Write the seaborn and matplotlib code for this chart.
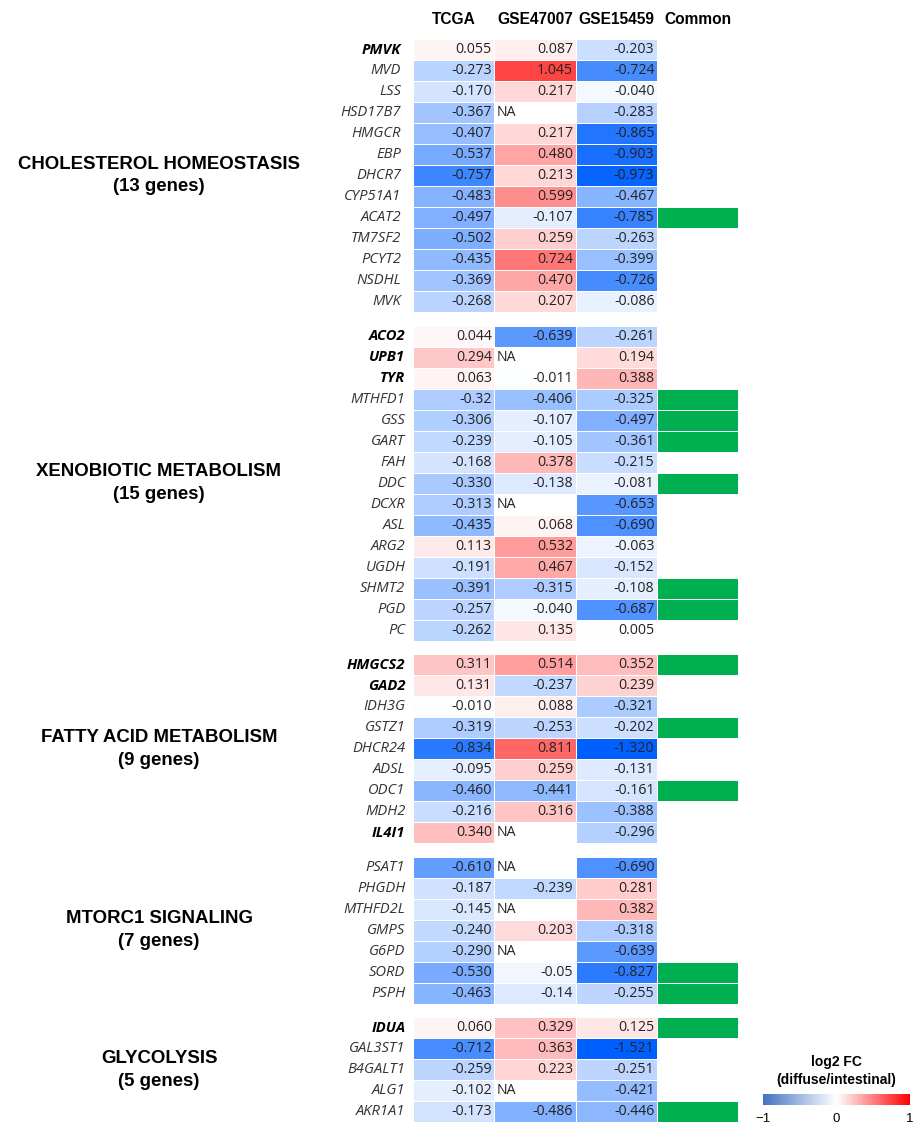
import matplotlib
matplotlib.use("Agg")
import matplotlib.pyplot as plt
import numpy as np
import pandas as pd
import seaborn as sns
from matplotlib.colors import LinearSegmentedColormap, ListedColormap, Normalize
from matplotlib.cm import ScalarMappable

sns.set_style("white")
plt.rcParams['font.family'] = ['Open Sans', 'DejaVu Sans']
plt.rcParams['text.color'] = 'black'

# data (strings keep the printed precision)
group_names = ["CHOLESTEROL HOMEOSTASIS", "XENOBIOTIC METABOLISM",
               "FATTY ACID METABOLISM", "MTORC1 SIGNALING", "GLYCOLYSIS"]
group_sizes = [13, 15, 9, 7, 5]
columns = ["TCGA", "GSE47007", "GSE15459"]

genes = ["PMVK", "MVD", "LSS", "HSD17B7", "HMGCR", "EBP", "DHCR7", "CYP51A1", "ACAT2",
         "TM7SF2", "PCYT2", "NSDHL", "MVK",
         "ACO2", "UPB1", "TYR", "MTHFD1", "GSS", "GART", "FAH", "DDC", "DCXR", "ASL",
         "ARG2", "UGDH", "SHMT2", "PGD", "PC",
         "HMGCS2", "GAD2", "IDH3G", "GSTZ1", "DHCR24", "ADSL", "ODC1", "MDH2", "IL4I1",
         "PSAT1", "PHGDH", "MTHFD2L", "GMPS", "G6PD", "SORD", "PSPH",
         "IDUA", "GAL3ST1", "B4GALT1", "ALG1", "AKR1A1"]

tcga = ["0.055", "-0.273", "-0.170", "-0.367", "-0.407", "-0.537", "-0.757", "-0.483", "-0.497",
        "-0.502", "-0.435", "-0.369", "-0.268",
        "0.044", "0.294", "0.063", "-0.32", "-0.306", "-0.239", "-0.168", "-0.330", "-0.313", "-0.435",
        "0.113", "-0.191", "-0.391", "-0.257", "-0.262",
        "0.311", "0.131", "-0.010", "-0.319", "-0.834", "-0.095", "-0.460", "-0.216", "0.340",
        "-0.610", "-0.187", "-0.145", "-0.240", "-0.290", "-0.530", "-0.463",
        "0.060", "-0.712", "-0.259", "-0.102", "-0.173"]

gse47007 = ["0.087", "1.045", "0.217", "NA", "0.217", "0.480", "0.213", "0.599", "-0.107",
            "0.259", "0.724", "0.470", "0.207",
            "-0.639", "NA", "-0.011", "-0.406", "-0.107", "-0.105", "0.378", "-0.138", "NA", "0.068",
            "0.532", "0.467", "-0.315", "-0.040", "0.135",
            "0.514", "-0.237", "0.088", "-0.253", "0.811", "0.259", "-0.441", "0.316", "NA",
            "NA", "-0.239", "NA", "0.203", "NA", "-0.05", "-0.14",
            "0.329", "0.363", "0.223", "NA", "-0.486"]

gse15459 = ["-0.203", "-0.724", "-0.040", "-0.283", "-0.865", "-0.903", "-0.973", "-0.467", "-0.785",
            "-0.263", "-0.399", "-0.726", "-0.086",
            "-0.261", "0.194", "0.388", "-0.325", "-0.497", "-0.361", "-0.215", "-0.081", "-0.653", "-0.690",
            "-0.063", "-0.152", "-0.108", "-0.687", "0.005",
            "0.352", "0.239", "-0.321", "-0.202", "-1.320", "-0.131", "-0.161", "-0.388", "-0.296",
            "-0.690", "0.281", "0.382", "-0.318", "-0.639", "-0.827", "-0.255",
            "0.125", "-1.521", "-0.251", "-0.421", "-0.446"]

common_genes = ["ACAT2", "MTHFD1", "GSS", "GART", "DDC", "SHMT2", "PGD",
                "HMGCS2", "GSTZ1", "ODC1", "SORD", "PSPH", "IDUA", "AKR1A1"]
bold_genes = ["PMVK", "ACO2", "UPB1", "TYR", "HMGCS2", "GAD2", "IL4I1", "IDUA"]

# build table
txt = pd.DataFrame({"TCGA": tcga, "GSE47007": gse47007, "GSE15459": gse15459}, index=genes)
vals = txt.replace("NA", np.nan).astype(float)
vals["Common"] = np.nan
common = pd.DataFrame(0.0, index=genes, columns=vals.columns)
common.loc[common_genes, "Common"] = 1.0

cell_cmap = LinearSegmentedColormap.from_list("bwr_x", ["#0060FF", "#FFFFFF", "#FF4444"])
bar_cmap = LinearSegmentedColormap.from_list("bar_x", ["#4472C4", "#FFFFFF", "#FF0000"])
green = ListedColormap(["#00B050"])

W, H = 913, 1124
fig = plt.figure(figsize=(W / 100, H / 100), dpi=100)


def rect(x0, y0, w, h):
    return [x0 / W, 1 - (y0 + h) / H, w / W, h / H]


row_h = 21.0
gap = 13.6
x_left, col_w = 413, 81.3
top = 39
start = 0
for gi, (gname, n) in enumerate(zip(group_names, group_sizes)):
    sub = vals.iloc[start:start + n]
    sub_txt = txt.iloc[start:start + n]
    sub_com = common.iloc[start:start + n]
    ax = fig.add_axes(rect(x_left, top, col_w * 4, row_h * n))
    sns.heatmap(sub, ax=ax, cmap=cell_cmap, vmin=-1, vmax=1, cbar=False,
                mask=sub.isna(), linewidths=0.4, linecolor="white",
                xticklabels=True, yticklabels=True)
    sns.heatmap(sub_com, ax=ax, cmap=green, cbar=False, mask=sub_com != 1,
                linewidths=0.4, linecolor="white", xticklabels=True, yticklabels=True)

    # cell texts
    for r in range(n):
        for c, col in enumerate(columns):
            s = sub_txt.iloc[r][col]
            if s == "NA":
                ax.text(c + 0.03, r + 0.5, s, ha="left", va="center", fontsize=10.2, color="#222222")
            else:
                ax.text(c + 0.97, r + 0.5, s, ha="right", va="center", fontsize=10.2, color="#222222")

    ax.set_yticklabels(sub.index, rotation=0)
    for lab in ax.get_yticklabels():
        lab.set_fontstyle("italic")
        lab.set_fontsize(10.6)
        lab.set_color("#333333")
        if lab.get_text() in bold_genes:
            lab.set_fontweight("bold")
            lab.set_color("black")
    ax.tick_params(left=False, bottom=False, top=False, pad=2)
    ax.set_ylabel("")
    ax.set_xlabel("")
    if gi == 0:
        ax.xaxis.tick_top()
        ax.set_xticklabels(["TCGA", "GSE47007", "GSE15459", "Common"], rotation=0,
                           fontsize=11.2, fontweight="bold", family="Liberation Sans",
                           color="black")
        ax.tick_params(top=False, pad=5)
    else:
        ax.set_xticks([])

    yc = top + row_h * n / 2
    fig.text(159 / W, 1 - yc / H, f"{gname}\n({n} genes)", ha="center", va="center",
             multialignment="center", fontsize=13.4, fontweight="bold",
             family="Liberation Sans", linespacing=1.45, color="black")

    top += row_h * n + gap
    start += n

# colour bar
cax = fig.add_axes(rect(763, 1094, 147, 11))
cb = fig.colorbar(ScalarMappable(norm=Normalize(-1, 1), cmap=bar_cmap), cax=cax,
                  orientation="horizontal", ticks=[-1, 0, 1])
cb.outline.set_visible(False)
cb.ax.tick_params(length=0, labelsize=9.5, pad=6, labelcolor="black")
cb.ax.set_xticklabels(["\u22121", "0", "1"], family="Liberation Sans")
fig.text(836 / W, 1 - 1071 / H, "log2 FC\n(diffuse/intestinal)", ha="center", va="center",
         multialignment="center", fontsize=10, fontweight="bold", family="Liberation Sans",
         linespacing=1.45, color="black")

fig.savefig("out.png", dpi=100)
